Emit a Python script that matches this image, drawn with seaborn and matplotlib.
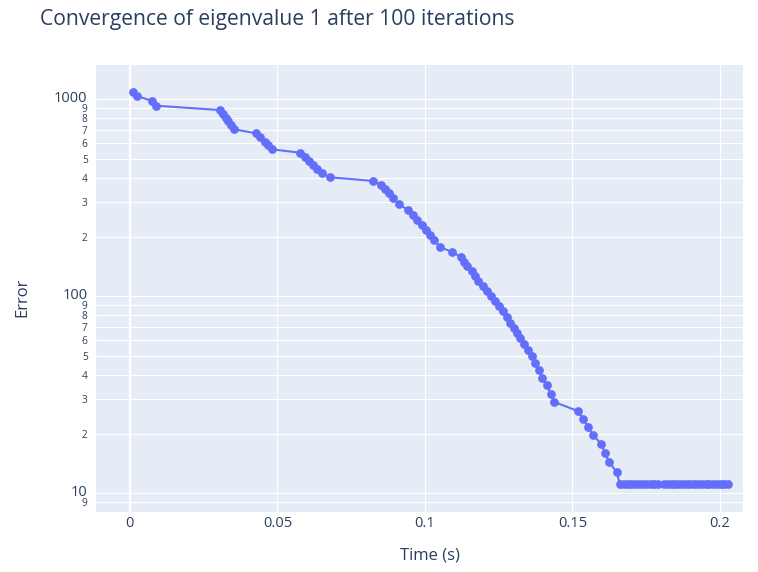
import matplotlib
matplotlib.use("Agg")
import matplotlib.pyplot as plt
import matplotlib.ticker as mticker
import matplotlib.transforms as mtransforms
import numpy as np
import pandas as pd
import seaborn as sns

# Elapsed time (s) at each iteration
time_s = [
    0.00112, 0.00227, 0.00736, 0.00881,
    0.0305, 0.0316, 0.0325, 0.0333, 0.0342, 0.0354,
    0.0427, 0.0441, 0.0458, 0.0469, 0.0482,
    0.0576, 0.0593, 0.0607, 0.0621, 0.0635, 0.0651, 0.0678,
    0.0825, 0.0851, 0.0864, 0.0879, 0.0893, 0.0912,
    0.0943, 0.0958, 0.0972, 0.0989, 0.1002, 0.1017, 0.1031, 0.1051,
    0.1091, 0.1121, 0.1132, 0.1143, 0.1158, 0.1169, 0.1181, 0.1196,
    0.1209, 0.1223, 0.1237, 0.1251, 0.1263,
    0.1277, 0.1289, 0.1301, 0.1311, 0.1322, 0.1336, 0.1350, 0.1362,
    0.1373, 0.1386, 0.1398, 0.1413, 0.1426, 0.1438,
    0.1520, 0.1535, 0.1553, 0.1568, 0.1597, 0.1610, 0.1623, 0.1650,
    0.1661, 0.1674, 0.1687, 0.1700, 0.1713, 0.1726, 0.1739, 0.1752,
    0.1765, 0.1778, 0.1791,
    0.1810, 0.1823, 0.1836, 0.1849, 0.1861, 0.1874, 0.1887, 0.1900,
    0.1913, 0.1926, 0.1939, 0.1951, 0.1964, 0.1977, 0.1990, 0.2003,
    0.2015, 0.2028,
]

# Absolute error of the eigenvalue estimate at each iteration
error = [
    1089, 1039, 984, 928,
    882, 839, 807, 773, 740, 704,
    672, 646, 609, 586, 557,
    536, 508, 486, 464, 443, 421, 402,
    385, 367, 349, 333, 314, 293,
    274, 259, 244, 230, 217, 205, 193, 178,
    168, 159, 150, 142.5, 134.4, 126.8, 120, 112.8,
    106.8, 100.7, 95.0, 89.6, 84.5,
    78.8, 73.6, 69.0, 64.9, 61.2, 57.3, 53.4, 49.8,
    45.7, 42.3, 38.6, 35.3, 32.0, 29.1,
    26.1, 23.9, 21.8, 19.8, 17.9, 16.1, 14.5, 12.8,
    11.1, 11.1, 11.1, 11.1, 11.1, 11.1, 11.1, 11.1,
    11.1, 11.1, 11.1,
    11.1, 11.1, 11.1, 11.1, 11.1, 11.1, 11.1, 11.1,
    11.1, 11.1, 11.1, 11.1, 11.1, 11.1, 11.1, 11.1,
    11.1, 11.1,
]

x_ticks = [0, 0.05, 0.1, 0.15, 0.2]
x_tick_labels = ["0", "0.05", "0.1", "0.15", "0.2"]
y_major = [10, 100, 1000]

df = pd.DataFrame({"Time (s)": time_s, "Error": error})

sns.set_theme(style="darkgrid")
plt.rcParams["font.family"] = ["Open Sans", "DejaVu Sans"]

TEXT = "#2a3f5f"
BG = "#E5ECF6"
TRACE = "#636efa"

W, H = 758, 572
fig = plt.figure(figsize=(W / 100, H / 100), dpi=100, facecolor="white")
left, right, top, bottom = 96, 743, 65, 512
ax = fig.add_axes([left / W, (H - bottom) / H, (right - left) / W, (bottom - top) / H])
ax.set_facecolor(BG)

ax.set_yscale("log")
ax.set_xlim(-0.0115, 0.2078)
ax.set_ylim(8.04, 1493)

# Grid: every decade and every integer multiple inside it
ax.yaxis.set_major_locator(mticker.FixedLocator(y_major))
ax.yaxis.set_major_formatter(mticker.FixedFormatter([str(v) for v in y_major]))
minor_vals = [m * d for d in (1, 10, 100) for m in range(2, 10)]
ax.yaxis.set_minor_locator(mticker.FixedLocator(minor_vals))
ax.yaxis.set_minor_formatter(mticker.FixedFormatter([str(m) for d in (1, 10, 100) for m in range(2, 10)]))
ax.set_xticks(x_ticks)
ax.set_xticklabels(x_tick_labels)

ax.grid(which="both", color="white", linewidth=0.8)
ax.axvline(0, color="white", linewidth=1.6, zorder=1)
ax.tick_params(which="both", length=0)
ax.tick_params(axis="y", which="major", labelsize=10.5, colors=TEXT, pad=6)
ax.tick_params(axis="y", which="minor", labelsize=7.3, colors=TEXT, pad=6)
ax.tick_params(axis="x", labelsize=10.5, colors=TEXT, pad=3)
for s in ax.spines.values():
    s.set_visible(False)

# Decade labels sit slightly above their grid lines
lift = mtransforms.ScaledTranslation(0, 3 / 100, fig.dpi_scale_trans)
for lbl in ax.yaxis.get_majorticklabels():
    lbl.set_transform(lbl.get_transform() + lift)

sns.lineplot(data=df, x="Time (s)", y="Error", ax=ax, sort=False, color=TRACE,
             linewidth=1.5, marker="o", markersize=6.3, markeredgewidth=0, zorder=3)

ax.set_xlabel("")
ax.set_ylabel("")
fig.text(430 / W, 1 - 555 / H, "Time (s)", ha="center", va="center", fontsize=12, color=TEXT)
fig.text(22 / W, 1 - 297 / H, "Error", ha="center", va="center", rotation=90, fontsize=12, color=TEXT)
fig.text(40 / W, 1 - 20 / H, "Convergence of eigenvalue 1 after 100 iterations",
         ha="left", va="center", fontsize=15.2, color=TEXT)

fig.savefig("out.png", dpi=100, facecolor="white")
